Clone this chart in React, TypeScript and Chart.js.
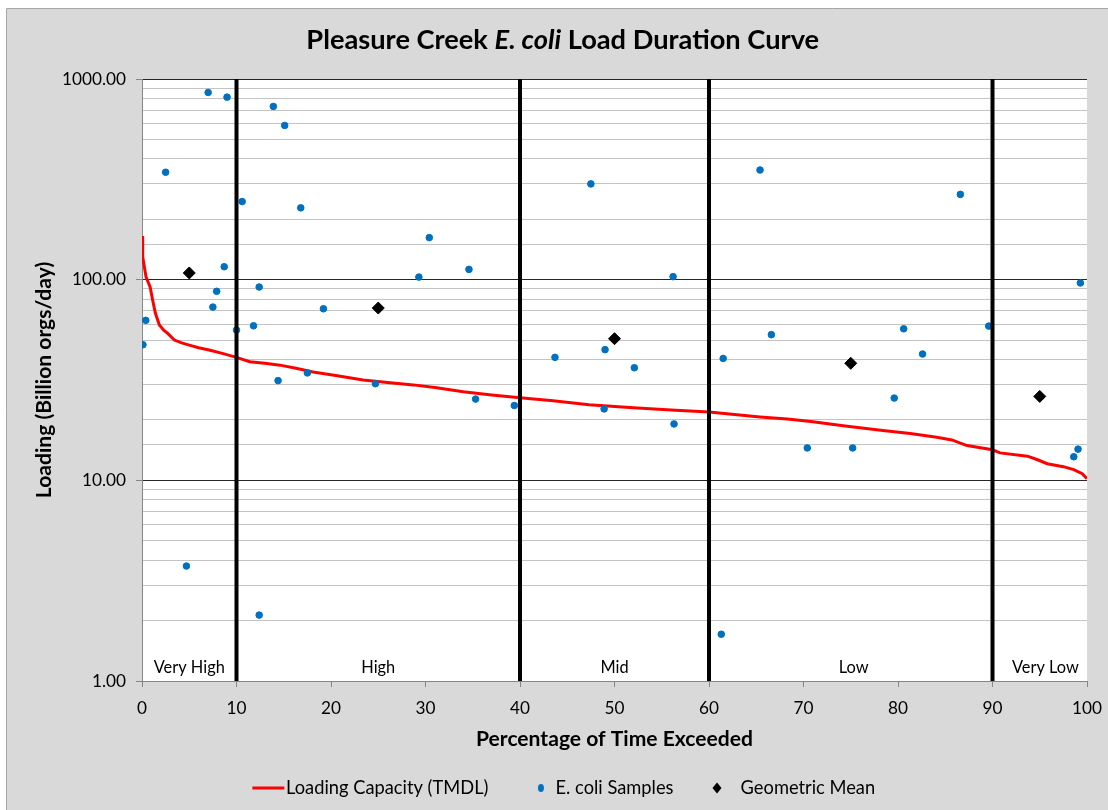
import React, { useEffect, useRef } from "react";
import { Chart, registerables } from "chart.js";

Chart.register(...registerables);

// ---- data ----
const tmdlPercent = [0, 0.07, 0.43, 0.86, 1.13, 1.42, 1.84, 2.3, 2.72, 3.43, 4.2, 5.0, 6.0, 7.1, 8.5, 10, 11.4, 13, 14.6, 16.3, 18.1, 20.5, 23.4, 26, 28.7, 31, 34, 37, 40, 43.5, 47.3, 52, 56, 60, 65.4, 68.3, 71, 74.2, 78.4, 81.3, 84.1, 85.7, 87.3, 90, 90.8, 93.7, 94.7, 95.8, 97.5, 98.6, 99.5, 100];
const tmdlLoad = [165, 130, 103, 92, 79, 68, 59.4, 56, 54, 50, 48.4, 47.2, 45.8, 44.6, 42.9, 41, 39, 38.3, 37.5, 36.2, 34.7, 33.3, 31.6, 30.7, 29.9, 29, 27.6, 26.6, 25.8, 24.9, 23.8, 23.0, 22.4, 21.9, 20.7, 20.2, 19.6, 18.7, 17.7, 17.1, 16.4, 15.9, 14.9, 14.2, 13.7, 13.2, 12.7, 12.1, 11.7, 11.3, 10.8, 10.2];

const samplePercent = [0.1, 0.4, 2.5, 4.7, 7.0, 7.5, 7.9, 8.7, 9.0, 10.0, 10.6, 11.8, 12.4, 12.4, 13.9, 14.4, 15.1, 16.8, 17.5, 19.2, 24.7, 29.3, 30.4, 34.6, 35.3, 39.4, 43.7, 47.5, 49.0, 48.9, 52.1, 56.2, 56.3, 61.3, 61.5, 65.4, 66.6, 70.4, 75.2, 79.6, 80.6, 82.6, 86.6, 89.6, 98.6, 99.05, 99.3];
const sampleLoad = [47.4, 62.7, 343, 3.74, 857, 73, 87.5, 116, 812, 56.1, 245, 58.9, 91.9, 2.13, 730, 31.4, 587, 228, 34.3, 71.6, 30.3, 103, 162, 112.5, 25.4, 23.6, 41, 300, 44.8, 22.7, 36.4, 103.5, 19.1, 1.71, 40.5, 352, 53.2, 14.5, 14.5, 25.7, 56.9, 42.6, 266, 58.7, 13.1, 14.3, 96.3];

const meanPercent = [5, 25, 50, 75, 95];
const meanLoad = [108, 72.2, 50.8, 38.3, 26.2];

const zoneBreaks = [10, 40, 60, 90];
const zoneNames = ["Very High", "High", "Mid", "Low", "Very Low"];
const zoneCenters = [5, 25, 50, 75.3, 95.6];
const zoneLabelLoad = 1.17;

const xMin = 0;
const xMax = 100;
const xStep = 10;
const yMin = 1;
const yMax = 1000;

const titleParts = [
  { text: "Pleasure Creek ", italic: false },
  { text: "E. coli", italic: true },
  { text: " Load Duration Curve", italic: false },
];
const yTitle = "Loading (Billion orgs/day)";
const xTitle = "Percentage of Time Exceeded";
const legendNames = ["Loading Capacity (TMDL)", "E. coli Samples", "Geometric Mean"];

// ---- style ----
const FAMILY = "Lato, 'Noto Sans', sans-serif";
const W = 1108;
const H = 810;
const AREA = { left: 142, right: 1087, top: 79, bottom: 681 };
const LEFT_PAD = 20;

function textWidth(font: string, text: string) {
  const c = document.createElement("canvas").getContext("2d")!;
  c.font = font;
  return c.measureText(text).width;
}
function fit(text: string, target: number, weight = "normal", style = "normal") {
  const w = textWidth(`${style} ${weight} 100px ${FAMILY}`, text);
  return Math.round(((100 * target) / w) * 100) / 100;
}

const isDecade = (v: number) => {
  if (!(v > 0)) return false;
  const l = Math.log10(v);
  return Math.abs(l - Math.round(l)) < 1e-9;
};

function makeIcon(kind: string, offset: number) {
  const c = document.createElement("canvas");
  c.width = 64;
  c.height = 16;
  const g = c.getContext("2d")!;
  if (kind === "line") {
    g.strokeStyle = "#ff0000";
    g.lineWidth = 3;
    g.beginPath();
    g.moveTo(offset, 8);
    g.lineTo(offset + 32, 8);
    g.stroke();
  } else if (kind === "dot") {
    g.fillStyle = "#0070c0";
    g.beginPath();
    g.ellipse(offset, 8, 3, 4, 0, 0, Math.PI * 2);
    g.fill();
  } else {
    g.fillStyle = "#000000";
    g.beginPath();
    g.moveTo(offset, 2.5);
    g.lineTo(offset + 4.5, 8);
    g.lineTo(offset, 13.5);
    g.lineTo(offset - 4.5, 8);
    g.closePath();
    g.fill();
  }
  return c;
}

export default function App() {
  const ref = useRef<HTMLCanvasElement>(null);

  useEffect(() => {
    document.body.style.margin = "0";
    document.body.style.overflow = "hidden";
    const canvas = ref.current!;

    const tickSize = fit("1000.00", 64);
    const axisTitleSize = fit(xTitle, 277, "bold");
    const legendSize = fit(legendNames.join(""), 455);
    const zoneSize = fit("Very Low", 67);
    let titleW = 0;
    titleParts.forEach((p) => {
      titleW += textWidth(`${p.italic ? "italic" : "normal"} bold 100px ${FAMILY}`, p.text);
    });
    const titleSize = (100 * 513) / titleW;

    const legendPad = 13;
    const legendPadBottom = 12 - legendSize / 2;
    const legendTop = H - legendPadBottom - (legendSize + legendPad + 10);
    const xAxisHeight = legendTop - AREA.bottom;
    const xTitleLH = axisTitleSize * 1.2;
    const xTitlePadBottom = legendTop - 739 - xTitleLH / 2;
    const yTitleLH = axisTitleSize * 1.2;
    const yTitlePadTop = 44 - LEFT_PAD - yTitleLH / 2;

    const framePlugin = {
      id: "frame",
      beforeDraw(chart: any) {
        const { ctx, chartArea: a } = chart;
        ctx.save();
        ctx.fillStyle = "#ffffff";
        ctx.fillRect(0, 0, W, H);
        ctx.fillStyle = "#d9d9d9";
        ctx.fillRect(7, 8, W - 7, H - 8);
        ctx.strokeStyle = "#a6a6a6";
        ctx.lineWidth = 1;
        ctx.beginPath();
        ctx.moveTo(6.5, H);
        ctx.lineTo(6.5, 8.5);
        ctx.lineTo(W, 8.5);
        ctx.stroke();
        ctx.fillStyle = "#ffffff";
        ctx.fillRect(a.left, a.top, a.right - a.left, a.bottom - a.top);
        ctx.restore();
      },
      afterDraw(chart: any) {
        const { ctx } = chart;
        ctx.save();
        ctx.fillStyle = "#000000";
        ctx.textBaseline = "alphabetic";
        ctx.textAlign = "left";
        const fonts = titleParts.map((p) => `${p.italic ? "italic" : "normal"} bold ${titleSize}px ${FAMILY}`);
        let total = 0;
        titleParts.forEach((p, i) => {
          ctx.font = fonts[i];
          total += ctx.measureText(p.text).width;
        });
        let x = 562.75 - total / 2;
        titleParts.forEach((p, i) => {
          ctx.font = fonts[i];
          ctx.fillText(p.text, x, 48.5);
          x += ctx.measureText(p.text).width;
        });
        ctx.restore();
      },
    };

    const zonePlugin = {
      id: "zones",
      afterDatasetsDraw(chart: any) {
        const { ctx, scales } = chart;
        ctx.save();
        ctx.fillStyle = "#000000";
        ctx.font = `normal ${zoneSize}px ${FAMILY}`;
        ctx.textAlign = "center";
        ctx.textBaseline = "middle";
        zoneNames.forEach((n, i) => {
          ctx.fillText(n, scales.x.getPixelForValue(zoneCenters[i]), scales.y.getPixelForValue(zoneLabelLoad));
        });
        ctx.restore();
      },
    };

    const icons = [makeIcon("line", 30), makeIcon("dot", 49), makeIcon("diamond", 40)];

    const zoneSets = zoneBreaks.map((b) => ({
      type: "line",
      label: "",
      data: [
        { x: b, y: yMin },
        { x: b, y: yMax },
      ],
      borderColor: "#000000",
      borderWidth: 4,
      pointRadius: 0,
      showLine: true,
      order: 0,
    }));

    const chart = new Chart(canvas, {
      type: "scatter",
      data: {
        datasets: [
          {
            type: "line",
            label: legendNames[0],
            data: tmdlPercent.map((x, i) => ({ x, y: tmdlLoad[i] })),
            borderColor: "#ff0000",
            borderWidth: 3,
            pointRadius: 0,
            showLine: true,
            tension: 0,
            order: 3,
          },
          {
            label: legendNames[1],
            data: samplePercent.map((x, i) => ({ x, y: sampleLoad[i] })),
            backgroundColor: "#0070c0",
            borderColor: "#0070c0",
            borderWidth: 1,
            pointRadius: 3.3,
            order: 2,
          },
          {
            label: legendNames[2],
            data: meanPercent.map((x, i) => ({ x, y: meanLoad[i] })),
            backgroundColor: "#000000",
            borderColor: "#000000",
            borderWidth: 1,
            pointStyle: "rectRot",
            pointRadius: 6,
            order: 1,
          },
          ...zoneSets,
        ] as any,
      },
      options: {
        responsive: false,
        animation: false,
        events: [],
        layout: {
          padding: { top: AREA.top, left: LEFT_PAD, right: W - AREA.right, bottom: legendPadBottom },
        },
        plugins: {
          title: { display: false },
          tooltip: { enabled: false },
          legend: {
            display: true,
            position: "bottom",
            labels: {
              usePointStyle: true,
              pointStyleWidth: 45,
              padding: legendPad,
              color: "#000000",
              font: { family: FAMILY, size: legendSize },
              generateLabels: () =>
                legendNames.map((t, i) => ({
                  text: t,
                  pointStyle: icons[i],
                  fillStyle: "transparent",
                  strokeStyle: "transparent",
                  lineWidth: 0,
                  hidden: false,
                  datasetIndex: i,
                  fontColor: "#000000",
                })),
            },
          },
        },
        scales: {
          x: {
            type: "linear",
            min: xMin,
            max: xMax,
            afterFit: (s: any) => {
              s.height = xAxisHeight;
              s.paddingLeft = 0;
              s.paddingRight = 0;
            },
            ticks: {
              stepSize: xStep,
              autoSkip: false,
              maxRotation: 0,
              color: "#000000",
              padding: 11,
              font: { family: FAMILY, size: tickSize },
            },
            grid: {
              drawOnChartArea: false,
              drawTicks: true,
              tickLength: 6,
              tickColor: "#868686",
            },
            border: { color: "#868686", width: 1 },
            title: {
              display: true,
              text: xTitle,
              color: "#000000",
              font: { family: FAMILY, size: axisTitleSize, weight: "bold" },
              padding: { top: 0, bottom: xTitlePadBottom },
            },
          },
          y: {
            type: "logarithmic",
            min: yMin,
            max: yMax,
            afterFit: (s: any) => {
              s.width = AREA.left - LEFT_PAD;
            },
            ticks: {
              autoSkip: false,
              color: "#000000",
              padding: 10,
              font: { family: FAMILY, size: tickSize },
              callback: (v: any) => (isDecade(Number(v)) ? Number(v).toFixed(2) : ""),
            },
            grid: {
              color: (c: any) => (c.tick && isDecade(c.tick.value) ? "#262626" : "#c4c4c4"),
              lineWidth: 1,
              tickLength: 6,
              tickColor: (c: any) => (c.tick && isDecade(c.tick.value) ? "#868686" : "rgba(0,0,0,0)"),
            },
            border: { color: "#868686", width: 1 },
            title: {
              display: true,
              text: yTitle,
              color: "#000000",
              font: { family: FAMILY, size: axisTitleSize, weight: "bold" },
              padding: { top: yTitlePadTop, bottom: 0 },
            },
          },
        },
      } as any,
      plugins: [framePlugin, zonePlugin],
    });

    return () => chart.destroy();
  }, []);

  return <canvas ref={ref} width={W} height={H} style={{ display: "block", width: W, height: H }} />;
}
